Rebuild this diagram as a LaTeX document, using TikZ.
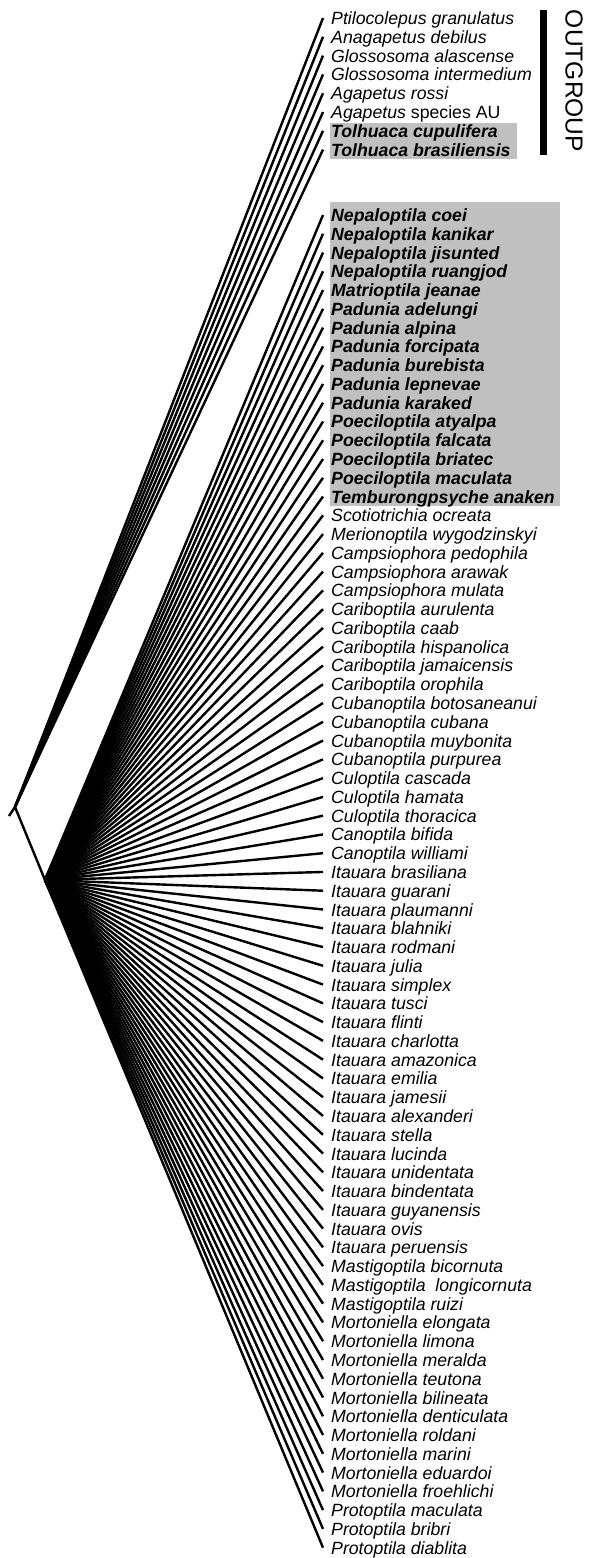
\documentclass[tikz,border=0pt]{standalone}
\usepackage{fontspec}
\setmainfont{Liberation Sans}
\definecolor{boxgray}{RGB}{192,192,192}
\begin{document}
\begin{tikzpicture}[x=1pt,y=-1pt,
  branch/.style={line width=2.4pt},
  lab/.style={anchor=base west, inner sep=0pt, font=\fontsize{17.7}{20}\selectfont\itshape},
  grp/.style={anchor=center, inner sep=0pt, rotate=-90, font=\fontsize{24.6}{26}\selectfont}]
\useasboundingbox (0,0) rectangle (590,1558);
% shaded boxes
\fill[boxgray] (330,123) rectangle (517,159);
\fill[boxgray] (330,202) rectangle (560,506);
% root and internal nodes
\coordinate (rootend) at (9,816);
\coordinate (root) at (15,807);
\coordinate (inode) at (45,880);
\draw[branch] (rootend) -- (root);
\draw[branch] (root) -- (inode);
% outgroup
\foreach \name [count=\i from 0] in {Ptilocolepus granulatus, Anagapetus debilus, Glossosoma alascense, Glossosoma intermedium, Agapetus rossi, Agapetus {\upshape species AU}, {\bfseries Tolhuaca cupulifera}, {\bfseries Tolhuaca brasiliensis}} {
  \pgfmathsetmacro\yy{18+18.8*\i}
  \coordinate (o\i) at (323,\yy);
  \node[lab] (ol\i) at (331,{\yy+6.5}) {\name};
  \draw[branch] (root) -- (o\i);
}
% ingroup
\foreach \name [count=\i from 0] in {
 {\bfseries Nepaloptila coei}, {\bfseries Nepaloptila kanikar}, {\bfseries Nepaloptila jisunted}, {\bfseries Nepaloptila ruangjod}, {\bfseries Matrioptila jeanae}, {\bfseries Padunia adelungi}, {\bfseries Padunia alpina}, {\bfseries Padunia forcipata}, {\bfseries Padunia burebista}, {\bfseries Padunia lepnevae}, {\bfseries Padunia karaked}, {\bfseries Poeciloptila atyalpa}, {\bfseries Poeciloptila falcata}, {\bfseries Poeciloptila briatec}, {\bfseries Poeciloptila maculata}, {\bfseries Temburongpsyche anaken},
 Scotiotrichia ocreata, Merionoptila wygodzinskyi, Campsiophora pedophila, Campsiophora arawak, Campsiophora mulata, Cariboptila aurulenta, Cariboptila caab, Cariboptila hispanolica, Cariboptila jamaicensis, Cariboptila orophila, Cubanoptila botosaneanui, Cubanoptila cubana, Cubanoptila muybonita, Cubanoptila purpurea, Culoptila cascada, Culoptila hamata, Culoptila thoracica, Canoptila bifida, Canoptila williami,
 Itauara brasiliana, Itauara guarani, Itauara plaumanni, Itauara blahniki, Itauara rodmani, Itauara julia, Itauara simplex, Itauara tusci, Itauara flinti, Itauara charlotta, Itauara amazonica, Itauara emilia, Itauara jamesii, Itauara alexanderi, Itauara stella, Itauara lucinda, Itauara unidentata, Itauara bindentata, Itauara guyanensis, Itauara ovis, Itauara peruensis,
 Mastigoptila bicornuta, Mastigoptila~ longicornuta, Mastigoptila ruizi,
 Mortoniella elongata, Mortoniella limona, Mortoniella meralda, Mortoniella teutona, Mortoniella bilineata, Mortoniella denticulata, Mortoniella roldani, Mortoniella marini, Mortoniella eduardoi, Mortoniella froehlichi,
 Protoptila maculata, Protoptila bribri, Protoptila diablita} {
  \pgfmathsetmacro\yy{215+18.77*\i}
  \coordinate (g\i) at (323,\yy);
  \node[lab] (gl\i) at (331,{\yy+6.5}) {\name};
  \draw[branch] (inode) -- (g\i);
}
% outgroup bar and label
\coordinate (bartop) at (543.5,10);
\coordinate (barbot) at (543.5,155);
\draw[line width=7pt] (bartop) -- (barbot);
\node[grp] (outgroup) at (574,81) {OUTGROUP};
\end{tikzpicture}
\end{document}
